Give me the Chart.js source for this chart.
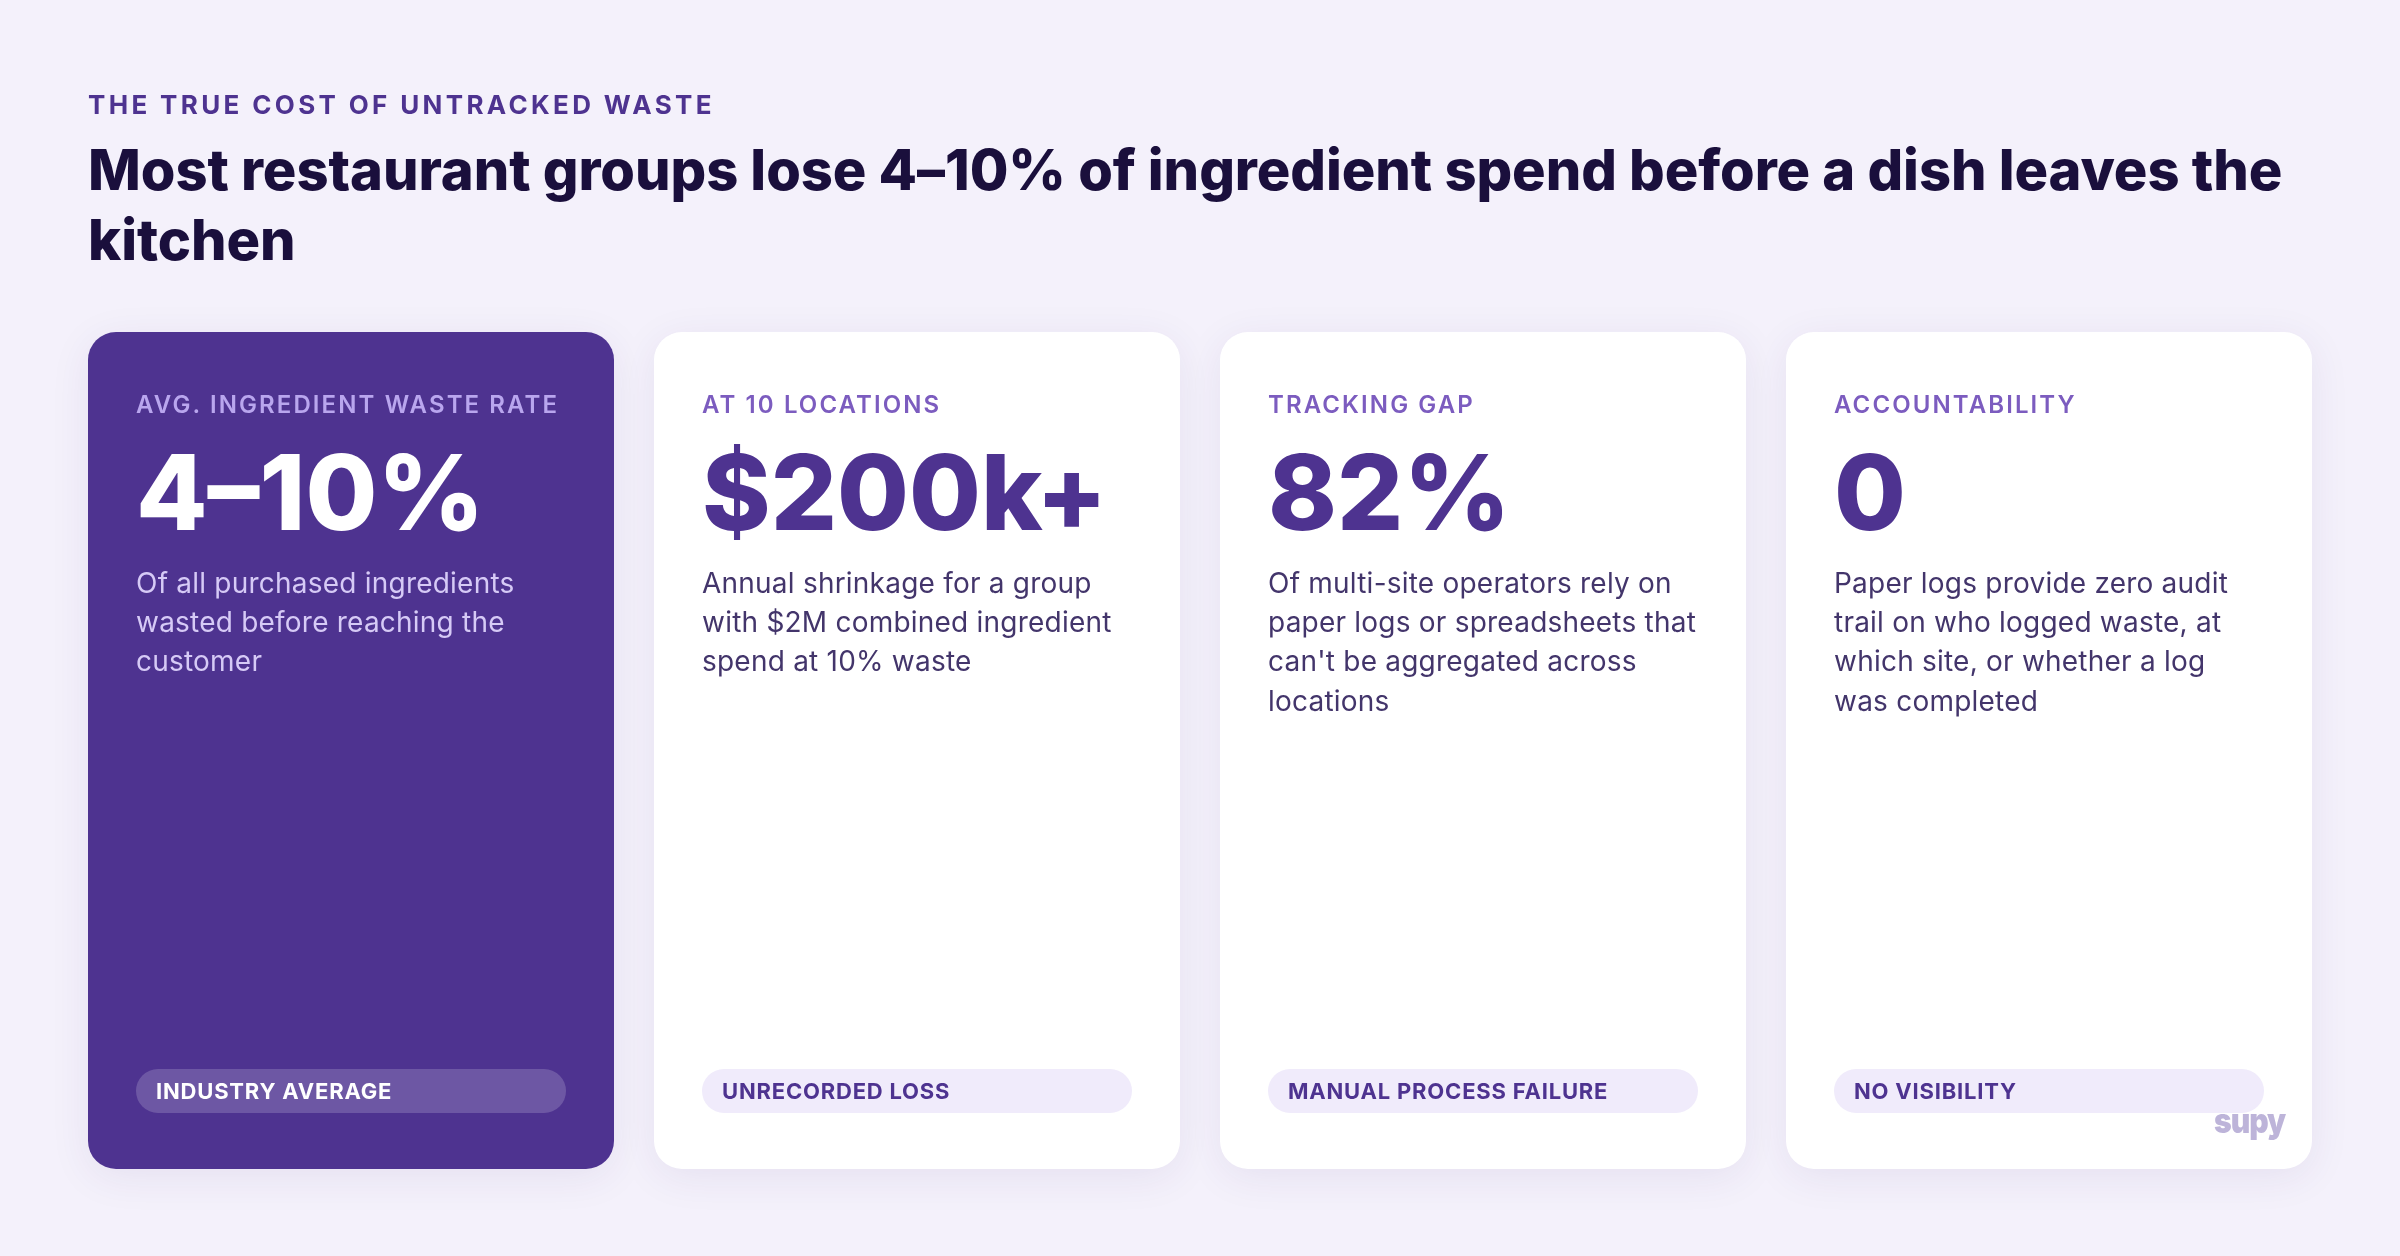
<!DOCTYPE html>
<html>
<head>
<meta charset="utf-8">
<title>The true cost of untracked waste</title>
<script src="https://cdn.jsdelivr.net/npm/chart.js@4"></script>
<style>
  html, body { margin: 0; padding: 0; background: #f4f1fb; }
  canvas { display: block; }
</style>
</head>
<body>
<canvas id="myChart" width="2400" height="1256"></canvas>
<script>
const eyebrow = "THE TRUE COST OF UNTRACKED WASTE";
const headline = ["Most restaurant groups lose 4–10% of ingredient spend before a dish leaves the", "kitchen"];
const logo = "supy";

const categories = ["AVG. INGREDIENT WASTE RATE", "AT 10 LOCATIONS", "TRACKING GAP", "ACCOUNTABILITY"];
const stats = ["4–10%", "$200k+", "82%", "0"];
const descriptions = [
    ["Of all purchased ingredients", "wasted before reaching the", "customer"],
    ["Annual shrinkage for a group", "with $2M combined ingredient", "spend at 10% waste"],
    ["Of multi-site operators rely on", "paper logs or spreadsheets that", "can't be aggregated across", "locations"],
    ["Paper logs provide zero audit", "trail on who logged waste, at", "which site, or whether a log", "was completed"]
];
const tags = ["INDUSTRY AVERAGE", "UNRECORDED LOSS", "MANUAL PROCESS FAILURE", "NO VISIBILITY"];

const cardSpans = [[0, 837], [0, 837], [0, 837], [0, 837]];
const tagSpans = [[56, 100], [56, 100], [56, 100], [56, 100]];

const purple = "#4e3390";

function drawText(ctx, text, x, y, font, color, spacing) {
    ctx.font = font;
    ctx.fillStyle = color;
    ctx.letterSpacing = spacing + "px";
    ctx.fillText(text, x, y);
}

// card shadow only while the card dataset draws
const cardShadow = {
    id: "cardShadow",
    beforeDatasetDraw(chart, args) {
        if (args.index !== 1) return;
        const ctx = chart.ctx;
        ctx.save();
        ctx.shadowColor = "rgba(60, 40, 110, 0.08)";
        ctx.shadowBlur = 40;
        ctx.shadowOffsetY = 8;
    },
    afterDatasetDraw(chart, args) {
        if (args.index === 1) chart.ctx.restore();
    }
};

const cardText = {
    id: "cardText",
    afterDraw(chart) {
        const ctx = chart.ctx;
        const top = chart.chartArea.top;
        ctx.save();
        ctx.textBaseline = "alphabetic";
        ctx.textAlign = "left";
        ctx.fontKerning = "normal";

        drawText(ctx, eyebrow, 88, 114, "700 26px Inter", purple, 3.34);
        headline.forEach((line, i) => {
            drawText(ctx, line, 88, 190 + i * 70, "800 56px Inter", "#1a0f3c", -0.06);
        });

        chart.getDatasetMeta(1).data.forEach((bar, i) => {
            const x = bar.x - bar.width / 2 + 48;
            const dark = i === 0;
            drawText(ctx, categories[i], x, top + 81, "600 24px Inter", dark ? "#b9a6ee" : "#7c5cbf", 2.1);
            drawText(ctx, stats[i], x, top + 198, "800 104px Inter", dark ? "#ffffff" : purple, 0);
            descriptions[i].forEach((line, j) => {
                drawText(ctx, line, x, top + 261 + j * 39.2, "400 28px Inter", dark ? "#d6caf6" : "#43356b", 0.22);
            });
            drawText(ctx, tags[i], x + 20, top + 767, "700 22px Inter", dark ? "#ffffff" : purple, 0.8);
        });

        // logo is narrower than the plain font, squeeze it
        ctx.translate(2214, 1133);
        ctx.scale(0.86, 1);
        drawText(ctx, logo, 0, 0, "900 35px Inter", "#bdb4d9", -1.2);
        ctx.restore();
    }
};

const chart = new Chart(document.getElementById("myChart").getContext("2d"), {
    type: "bar",
    data: {
        labels: categories,
        datasets: [
            {
                label: "Tag",
                data: tagSpans,
                grouped: false,
                clip: false,
                categoryPercentage: 430 / 566,
                barPercentage: 1,
                borderRadius: 22,
                borderSkipped: false,
                backgroundColor: ["rgba(255, 255, 255, 0.18)", "#f0ebfb", "#f0ebfb", "#f0ebfb"]
            },
            {
                label: "Card",
                data: cardSpans,
                grouped: false,
                clip: false,
                categoryPercentage: 526 / 566,
                barPercentage: 1,
                borderRadius: 28,
                borderSkipped: false,
                backgroundColor: [purple, "#ffffff", "#ffffff", "#ffffff"]
            }
        ]
    },
    options: {
        responsive: false,
        devicePixelRatio: 1,
        animation: false,
        layout: { padding: { left: 68, right: 68, top: 332, bottom: 87 } },
        plugins: { legend: { display: false }, tooltip: { enabled: false }, title: { display: false } },
        scales: {
            x: { display: false, offset: true },
            y: { display: false, min: 0, max: 837 }
        }
    },
    plugins: [cardShadow, cardText]
});
</script>
</body>
</html>
